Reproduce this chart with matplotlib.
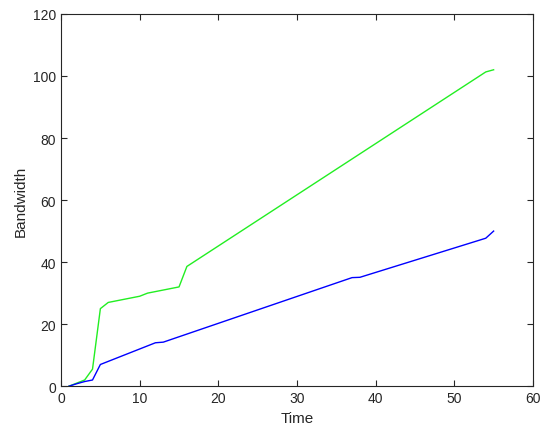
import numpy as np
import matplotlib.pyplot as plt

plt.rcParams["font.family"] = ["Liberation Sans", "DejaVu Sans"]

# breakpoints
time_green = [1, 2, 3, 4, 5, 6, 10, 11, 12, 15, 16, 54, 55]
bw_green = [0, 1, 2, 5.5, 25, 27, 29, 30, 30.5, 32, 38.6, 101.3, 102]

time_blue = [1, 2, 3, 4, 5, 12, 13, 37, 38, 54, 55]
bw_blue = [0, 0.8, 1.5, 2, 7, 14, 14.2, 35, 35.1, 47.7, 50]

fig = plt.figure(figsize=(5.5, 4.39), dpi=100)
ax = fig.add_axes([0.111, 0.118, 0.858, 0.848])

ax.plot(time_green, bw_green, color="#22ee22", lw=1)
ax.plot(time_blue, bw_blue, color="#0000ff", lw=1)

ax.set_xlim(0, 60)
ax.set_ylim(0, 120)
ax.set_xticks(np.arange(0, 61, 10))
ax.set_yticks(np.arange(0, 121, 20))
ax.tick_params(direction="in", top=True, right=True, labelsize=10,
               colors="#262626", length=4)
for s in ax.spines.values():
    s.set_color("#262626")
ax.set_xlabel("Time", fontsize=11, color="#262626")
ax.set_ylabel("Bandwidth", fontsize=11, color="#262626")

fig.savefig("out.png", dpi=100)
